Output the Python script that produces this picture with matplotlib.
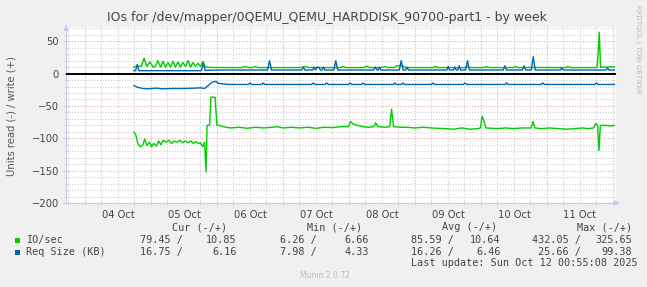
#!/usr/bin/env python3

import matplotlib
matplotlib.use("Agg")
import matplotlib.pyplot as plt
from matplotlib.patches import Rectangle

# munin "by week" diskstats graph, read is drawn negative, write positive
# x values are hours since 04 Oct 00:00

title = "IOs for /dev/mapper/0QEMU_QEMU_HARDDISK_90700-part1 - by week"
ylabel = "Units read (-) / write (+)"
day_labels = ["04 Oct", "05 Oct", "06 Oct", "07 Oct", "08 Oct", "09 Oct", "10 Oct", "11 Oct"]

# IO/sec, write (+)
io_write = [
  (17.8, 10), (19.0, 12), (20.5, 11), (21.5, 24), (22.5, 11), (23.6, 18), (24.8, 10),
  (25.6, 11), (26.5, 20), (27.5, 10), (28.4, 19), (29.3, 10), (30.2, 17), (31.1, 10),
  (32.0, 19), (32.9, 10), (33.8, 18), (34.7, 10), (35.6, 17), (36.6, 11), (37.5, 20),
  (38.4, 10), (39.3, 17), (40.2, 11), (41.1, 16), (42.0, 11), (42.9, 19), (43.8, 10),
  (46, 9.5), (52, 9.3), (57, 9.3), (58.2, 11), (59.5, 9.3), (61, 9.3), (61.8, 11),
  (63, 9.3), (70, 9.3), (78.5, 9.3), (80, 11), (81.5, 9.3), (88, 9.3), (93, 9.3),
  (93.8, 11), (95, 9.3), (101.5, 9.3), (102.4, 11.5), (103.5, 9.3), (108, 9.3),
  (109, 11), (110, 9.3), (112.5, 9.5), (113.3, 12), (115.5, 12), (116.5, 9.3),
  (126.5, 9.3), (127.3, 11), (128.5, 9.3), (138, 9.3), (139, 10.5), (140, 9.3),
  (145, 9.3), (146, 11), (147, 9.3), (155.5, 9.3), (156.4, 11), (157.5, 9.3),
  (164, 9.5), (171, 9.3), (175, 9.3), (175.6, 11), (176.5, 9.3), (186.2, 9.3),
  (186.6, 30), (187.0, 64), (187.5, 9.5), (188.5, 10), (192.5, 10.5),
]

# IO/sec, read (-)
io_read = [
  (17.8, -90.5), (18.5, -95), (19.2, -108), (20.0, -113), (21.0, -111), (21.7, -101),
  (22.5, -111), (23.5, -106), (24.2, -113), (25.0, -108), (26.0, -112), (26.8, -104),
  (27.6, -110), (28.5, -103), (29.5, -106), (30.5, -103), (31.5, -108), (32.4, -104),
  (33.4, -106), (34.5, -103), (35.5, -107), (36.5, -104), (37.5, -107), (38.5, -104),
  (39.4, -108), (40.3, -105), (41.2, -108), (42.0, -107), (42.8, -113), (43.5, -106),
  (44.0, -152), (44.4, -80), (45.3, -80), (45.8, -36.5), (47.3, -36.5), (48.0, -80),
  (49, -80), (50, -82), (53, -84), (56, -83), (59, -84.5), (62, -83), (65, -84),
  (68, -83), (70, -82), (72, -84), (75, -83), (78, -84), (81, -83), (84, -84.5),
  (87, -83), (90, -83.5), (93, -82), (95.8, -82), (96.6, -74), (97.5, -78), (99, -80),
  (101, -82), (103, -83), (105, -82), (105.7, -76), (106.5, -82), (109, -83),
  (110.8, -82), (111.5, -55), (112.2, -82), (115, -83), (117, -83), (120, -84),
  (123, -83), (126, -84), (128, -84.5), (131, -85), (134, -86), (137, -84), (140, -86),
  (143, -85), (143.8, -84), (144.4, -66), (145.0, -72), (145.8, -84), (150, -85),
  (153, -84), (156, -85), (159, -84), (162.2, -84), (162.9, -74), (163.6, -84),
  (166, -85), (169, -84), (172, -85), (175, -86), (178, -85), (181, -84), (183, -85),
  (185.0, -84), (185.8, -77), (186.4, -80), (186.9, -119), (187.4, -80), (189, -80),
  (191, -81), (192.5, -80),
]

# Req Size (KB), write (+)
rs_write = [
  (17.8, 4.5), (18.4, 4.5), (19.0, 14), (19.6, 4.5), (30, 4.5), (42.3, 4.5), (43.0, 16),
  (43.7, 5.0), (50, 5.5), (66.4, 5.5), (67.1, 20), (67.8, 5.5), (78.8, 5.5), (79.4, 10),
  (80.0, 5.5), (82.8, 5.5), (83.3, 10), (83.8, 5.5), (84.4, 10), (85.0, 10), (85.6, 5.5),
  (86.2, 5.5), (86.7, 10), (87.2, 5.5), (90.5, 5.5), (91.2, 20), (91.9, 5.5),
  (105.0, 5.5), (105.6, 10), (106.2, 5.5), (106.6, 5.5), (107.1, 10), (107.6, 5.5),
  (114.3, 5.5), (115.0, 20), (115.7, 5.5), (116.6, 5.5), (117.1, 10), (117.6, 5.5),
  (131.6, 5.5), (132.1, 11), (132.6, 5.5), (134.0, 5.5), (134.5, 10), (135.0, 5.5),
  (135.6, 5.5), (136.1, 12), (136.6, 5.5), (138.4, 5.5), (139.1, 20), (139.8, 5.5),
  (152.1, 5.5), (152.7, 12), (153.3, 5.5), (159.1, 5.5), (159.7, 12), (160.3, 5.5),
  (162.3, 5.5), (163.0, 26), (163.7, 5.5), (172.9, 5.5), (173.4, 9), (173.9, 5.5),
  (189.5, 5.5), (190.0, 9), (190.5, 5.5), (192.5, 5.5),
]

# Req Size (KB), read (-)
rs_read = [
  (17.8, -18.5), (19.0, -21), (21, -23), (23, -23.5), (26, -22.5), (28, -23.5), (32, -23),
  (36, -23), (40, -22.5), (42, -22), (43.5, -23), (44.4, -20), (45.5, -16), (46.5, -13),
  (47.5, -12), (48.5, -15), (52, -16.8), (59.4, -16.8), (60.0, -14.5), (60.6, -16.8),
  (64.2, -16.8), (64.8, -14.5), (65.4, -16.8), (82.4, -16.8), (83.0, -14.5),
  (83.6, -16.8), (87.3, -16.8), (87.9, -14.5), (88.5, -16.8), (95.8, -16.8),
  (96.4, -14.5), (97.0, -16.8), (100.5, -16.8), (101.1, -14.5), (101.7, -16.8),
  (112.1, -16.8), (112.7, -14.5), (113.3, -16.8), (115.0, -16.8), (115.6, -14.5),
  (116.2, -16.8), (125.9, -16.8), (126.5, -14.5), (127.1, -16.8), (137.6, -16.8),
  (138.2, -14.5), (138.8, -16.8), (152.7, -16.8), (153.3, -14.5), (153.9, -16.8),
  (165.9, -16.8), (166.5, -14.5), (167.1, -16.8), (185.4, -16.8), (186.0, -14.5),
  (186.6, -16.8), (192.5, -16.8),
]

legend_names = ["IO/sec", "Req Size (KB)"]
legend_cur = [("79.45", "10.85"), ("16.75", "6.16")]
legend_min = [("6.26", "6.66"), ("7.98", "4.33")]
legend_avg = [("85.59", "10.64"), ("16.26", "6.46")]
legend_max = [("432.05", "325.65"), ("25.66", "99.38")]
last_update = "Last update: Sun Oct 12 00:55:08 2025"

GREEN = "#00CC00"
BLUE = "#0066B3"
W, H = 647, 287


def fx(x):
  return x / W


def fy(y):
  return 1 - y / H


def main():
  fig = plt.figure(figsize=(W / 100, H / 100), dpi=100, facecolor="#F0F0F0")
  ax = fig.add_axes([fx(66), fy(203), fx(616) - fx(66), fy(27) - fy(203)])
  ax.set_facecolor("white")

  ax.set_xlim(-6.9, 193.1)
  ax.set_ylim(-200, 72)

  # grid, munin style
  for h in range(-6, 193, 6):
    if h % 24 == 0:
      continue
    ax.axvline(h, color="#D0D0D0", lw=0.8, ls=(0, (1, 1.5)), zorder=1)
  for v in range(-190, 71, 10):
    if v % 50 == 0:
      continue
    ax.axhline(v, color="#D0D0D0", lw=0.8, ls=(0, (1, 1.5)), zorder=1)
  for h in range(0, 193, 24):
    ax.axvline(h, color="#F0A8A8", lw=0.8, ls=(0, (1, 1.5)), zorder=1)
  for v in range(-200, 51, 50):
    ax.axhline(v, color="#F0A8A8", lw=0.8, ls=(0, (1, 1.5)), zorder=1)

  for series, col in [(io_write, GREEN), (io_read, GREEN), (rs_write, BLUE), (rs_read, BLUE)]:
    t = [p[0] for p in series]
    v = [p[1] for p in series]
    ax.plot(t, v, color=col, lw=1.0, zorder=3)

  ax.axhline(0, color="black", lw=1.4, zorder=4)

  for s in ["top", "right"]:
    ax.spines[s].set_visible(False)
  for s in ["left", "bottom"]:
    ax.spines[s].set_color("#C8C8F0")
    ax.spines[s].set_linewidth(0.8)

  ax.set_yticks(range(-200, 51, 50))
  ax.set_yticks(range(-200, 71, 10), minor=True)
  ax.set_xticks([12 + 24 * i for i in range(len(day_labels))])
  ax.set_xticklabels(day_labels)
  ax.set_xticks(range(-6, 193, 6), minor=True)
  ax.tick_params(axis="both", which="both", direction="inout", color="#C8C8F0", labelsize=7.2, labelcolor="#444444")
  ax.tick_params(axis="y", which="major", length=4, pad=3)
  ax.tick_params(axis="y", which="minor", length=3)
  ax.tick_params(axis="x", which="major", length=0, pad=5)
  ax.tick_params(axis="x", which="minor", length=3)

  # axis arrows
  ax.annotate("", xy=(1.012, 0), xycoords="axes fraction", xytext=(0.995, 0),
              arrowprops=dict(arrowstyle="-|>", color="#C8C8F0", lw=0.8, mutation_scale=7))
  ax.annotate("", xy=(0, 1.025), xycoords="axes fraction", xytext=(0, 0.99),
              arrowprops=dict(arrowstyle="-|>", color="#C8C8F0", lw=0.8, mutation_scale=7))

  fig.text(fx(327), fy(18), title, ha="center", va="center", fontsize=9.0, color="#444444")
  fig.text(fx(12), fy(116), ylabel, ha="center", va="center", rotation=90, fontsize=7.2, color="#555555")
  fig.text(fx(638), fy(5), "RRDTOOL / TOBI OETIKER", ha="center", va="top", rotation=270,
           fontsize=5, color="#BBBBBB")

  mono = dict(family="DejaVu Sans Mono", fontsize=7.3, color="#444444", va="center")
  for hx, head in [(227, "Cur (-/+)"), (361.7, "Min (-/+)"), (497, "Avg (-/+)"), (632.5, "Max (-/+)")]:
    fig.text(fx(hx), fy(227), head, ha="right", **mono)

  cols = [(183.3, 236.7, legend_cur), (316.7, 368.8, legend_min), (454, 500.8, legend_avg), (581, 632.5, legend_max)]
  for i, (name, col) in enumerate(zip(legend_names, [GREEN, BLUE])):
    y = 240 + 12 * i
    fig.patches.append(Rectangle((fx(14.5), fy(y + 2.5)), 5 / W, 5 / H, transform=fig.transFigure,
                                 facecolor=col, edgecolor="none"))
    fig.text(fx(26), fy(y), name, ha="left", **mono)
    for x1, x2, vals in cols:
      fig.text(fx(x1), fy(y), vals[i][0] + " /", ha="right", **mono)
      fig.text(fx(x2), fy(y), vals[i][1], ha="right", **mono)

  fig.text(fx(638), fy(263.5), last_update, ha="right", **mono)
  fig.text(fx(325), fy(276), "Munin 2.0.72", ha="center", va="center", fontsize=5.5, color="#BBBBBB")

  fig.savefig("out.png", dpi=100, facecolor=fig.get_facecolor())


if __name__ == "__main__":
  main()
